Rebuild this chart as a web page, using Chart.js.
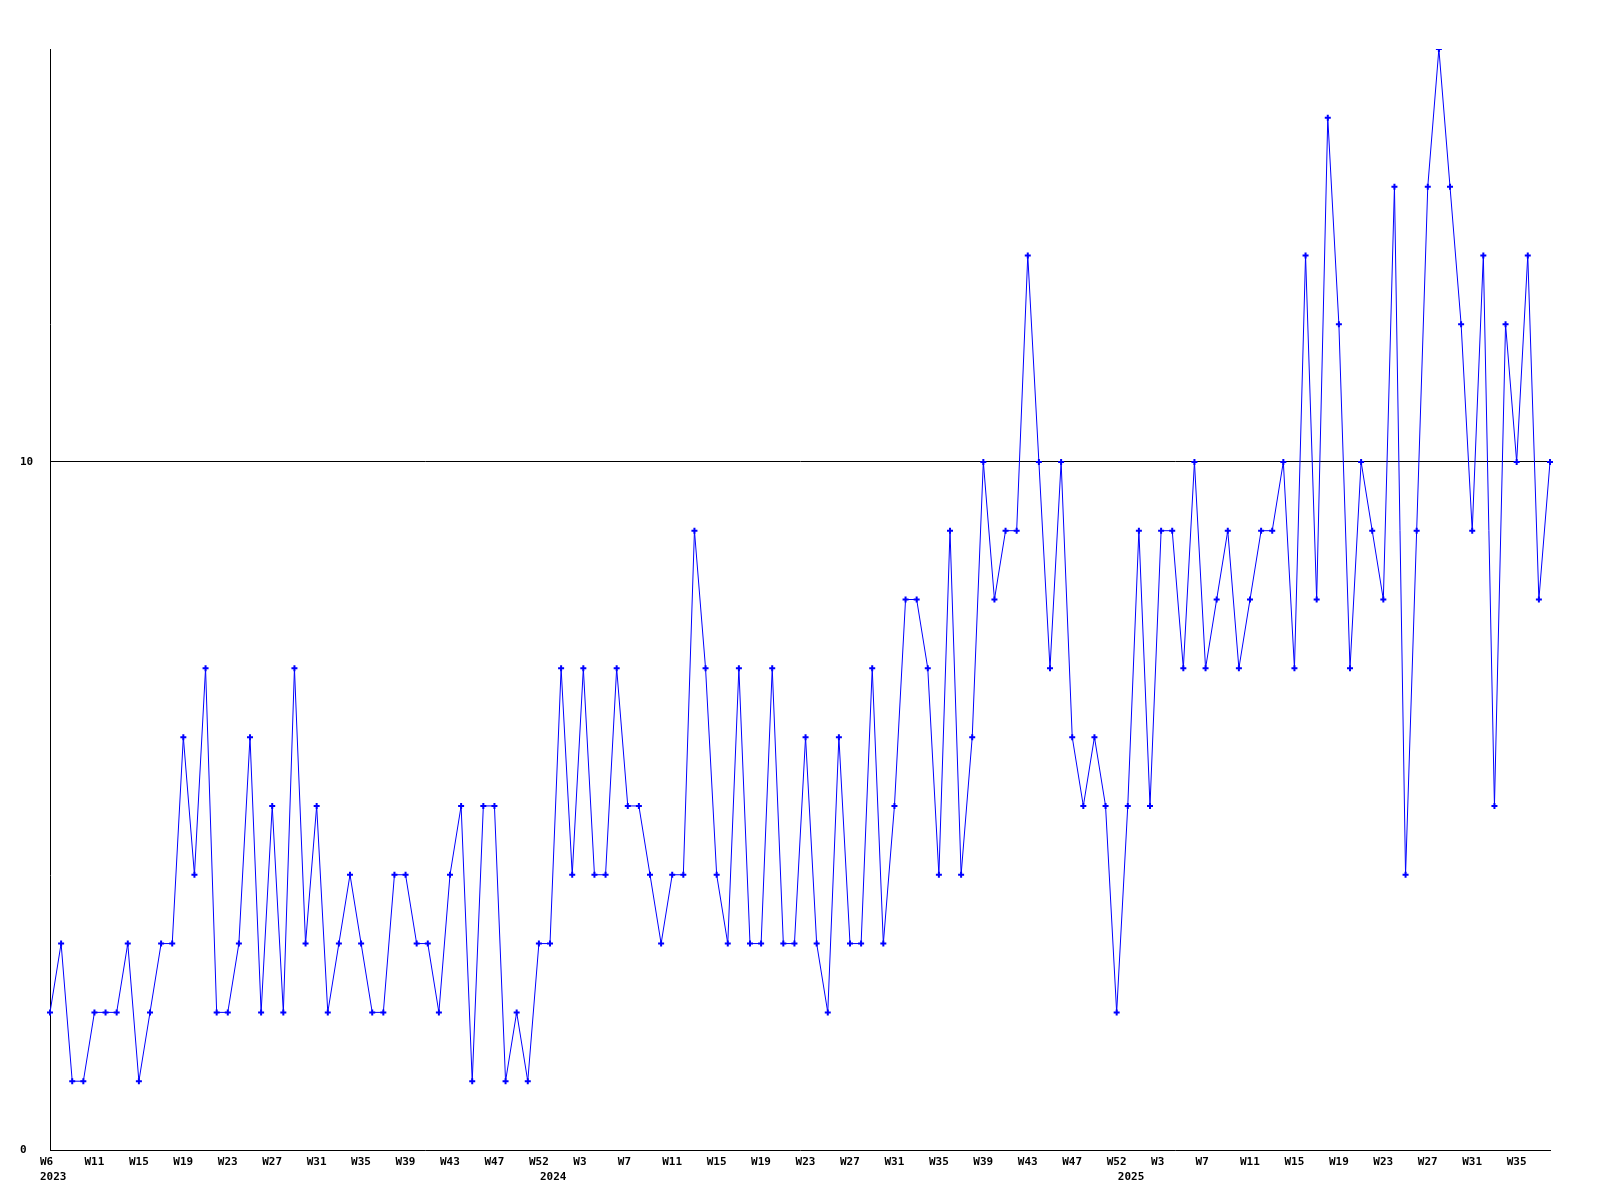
<!DOCTYPE html>
<html lang="en">
<head>
    <meta charset="UTF-8">
    <title>Weekly count</title>
    <script src="https://cdn.jsdelivr.net/npm/chart.js"></script>
    <style>
        html, body { margin: 0; padding: 0; background: #fff; }
        #wrap { width: 1600px; height: 1200px; }
    </style>
</head>
<body>
<div id="wrap"><canvas id="myChart" width="1600" height="1200"></canvas></div>
<script>
// week of each point (only every 4th one is printed on the axis)
const weeks2023 = ['W6','W8','W9','W10','W11','W12','W13','W14','W15','W16','W17','W18','W19','W20','W21','W22',
    'W23','W24','W25','W26','W27','W28','W29','W30','W31','W32','W33','W34','W35','W36','W37','W38','W39','W40',
    'W41','W42','W43','W44','W45','W46','W47','W49','W50','W51','W52'];
const weeks2024 = ['W1','W1','W2','W3','W4','W5','W6','W7','W8','W9','W10','W11','W12','W13','W14','W15','W16',
    'W17','W18','W19','W20','W21','W22','W23','W24','W25','W26','W27','W28','W29','W30','W31','W32','W33','W34',
    'W35','W36','W37','W38','W39','W40','W41','W42','W43','W44','W45','W46','W47','W49','W50','W51','W52'];
const weeks2025 = ['W1','W1','W2','W3','W4','W5','W6','W7','W8','W9','W10','W11','W12','W13','W14','W15','W16',
    'W17','W18','W19','W20','W21','W22','W23','W24','W25','W26','W27','W28','W29','W30','W31','W32','W33','W34',
    'W35','W36','W37','W38'];
const years = ['2023', '2024', '2025'];

const counts = [
    2,3,1,1,2,2,2,3,1,2,3,3,6,4,7,2,2,3,6,2,5,2,7,3,5,2,
    3,4,3,2,2,4,4,3,3,2,4,5,1,5,5,1,2,1,3,3,7,4,7,4,4,7,5,5,4,
    3,4,4,9,7,4,3,7,3,3,7,3,3,6,3,2,6,3,3,7,3,5,8,8,7,4,9,4,
    6,10,8,9,9,13,10,7,10,6,5,6,5,2,5,9,5,9,9,7,10,7,8,9,7,8,9,9,10,7,13,8,15,12,7,10,9,8,14,4,9,14,16,14,12,9,13,5,12,10,13,8,10
];

const yTicks = [0, 10];

const weeks = weeks2023.concat(weeks2024, weeks2025);
// index where each year starts
const yearStart = [0, weeks2023.length, weeks2023.length + weeks2024.length];

function xLabel(i) {
    const y = yearStart.indexOf(i);
    const w = (i % 4 === 0) ? weeks[i] : '';
    if (y >= 0) return [w, years[y]];
    return w;
}

const ctx = document.getElementById('myChart').getContext('2d');

new Chart(ctx, {
    type: 'line',
    data: {
        labels: weeks,
        datasets: [{
            data: counts,
            borderColor: '#0000ff',
            backgroundColor: '#0000ff',
            borderWidth: 1,
            tension: 0,
            pointStyle: 'cross',
            pointRadius: 3,
            pointBorderWidth: 2,
            pointHoverRadius: 3
        }]
    },
    options: {
        responsive: false,
        animation: false,
        layout: { padding: { left: 20, right: 50, top: 49, bottom: 0 } },
        plugins: {
            legend: { display: false },
            tooltip: { enabled: false }
        },
        scales: {
            x: {
                offset: false,
                grid: { display: false, drawTicks: false },
                border: { display: true, color: '#000', width: 1 },
                afterFit: function(scale) { scale.height = 50; },
                ticks: {
                    autoSkip: false,
                    maxRotation: 0,
                    minRotation: 0,
                    align: 'start',
                    labelOffset: -10,
                    padding: 5,
                    color: '#000',
                    font: { family: 'DejaVu Sans Mono', size: 11, weight: 'bold', lineHeight: 1.35 },
                    callback: function(value, index) { return xLabel(index); }
                }
            },
            y: {
                min: 0,
                max: 16,
                afterFit: function(scale) { scale.width = 30; },
                afterBuildTicks: function(scale) {
                    scale.ticks = scale.ticks.filter(t => yTicks.includes(t.value));
                },
                grid: {
                    drawTicks: false,
                    color: c => (c.tick && c.tick.value === 10) ? '#000' : 'rgba(0,0,0,0)',
                    lineWidth: 1
                },
                border: { display: true, color: '#000', width: 1 },
                ticks: {
                    stepSize: 10,
                    crossAlign: 'far',
                    color: '#000',
                    font: { family: 'DejaVu Sans Mono', size: 11, weight: 'bold' }
                }
            }
        }
    }
});
</script>
</body>
</html>
